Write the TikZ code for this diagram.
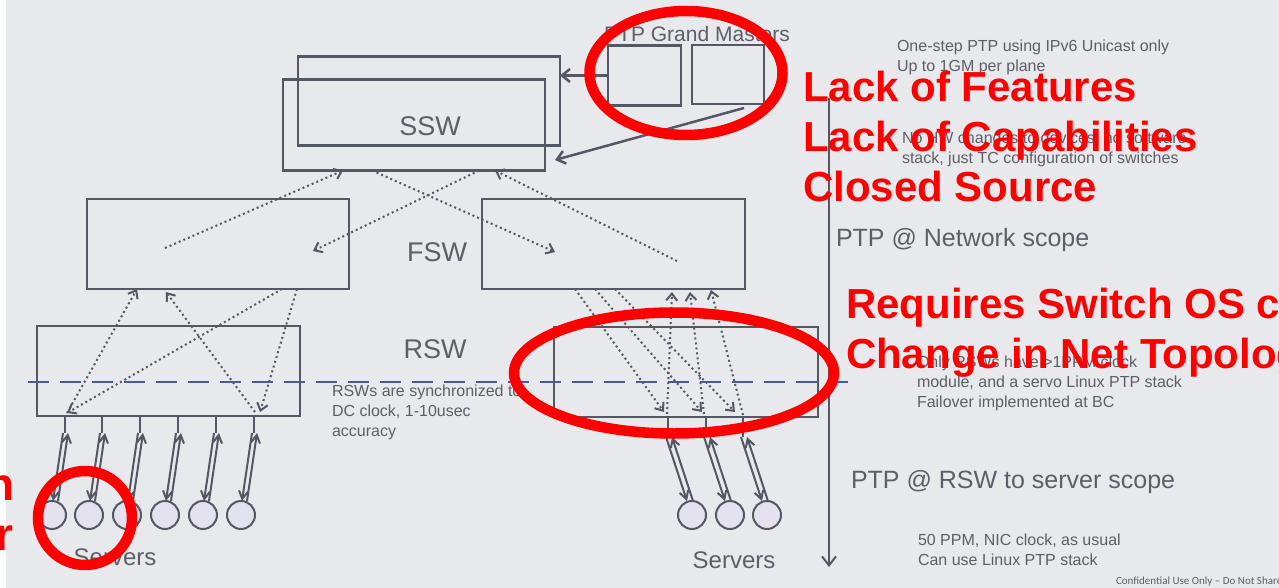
\documentclass[tikz,border=0pt]{standalone}
\usepackage{fontspec}
\setmainfont{Liberation Sans}
\newfontfamily\confont{Carlito}
\usetikzlibrary{arrows.meta,shapes.geometric}
\definecolor{bgc}{HTML}{E8E9EC}
\definecolor{lnc}{HTML}{535864}
\definecolor{txc}{HTML}{5B5F68}
\definecolor{srvc}{HTML}{E5E2F0}
\definecolor{dashc}{HTML}{4A5A96}
\definecolor{mkc}{HTML}{FF0000}
\tikzset{
 box/.style={draw=lnc, line width=2.5pt, rectangle, inner sep=0pt, outer sep=0pt},
 srv/.style={circle, draw=lnc, line width=2pt, fill=srvc, minimum size=28pt, inner sep=0pt, outer sep=0pt},
 txt/.style={inner sep=0pt, outer sep=0pt, anchor=base west, text=txc},
 small/.style={txt, font=\fontsize{16}{20}\selectfont},
 big/.style={txt, font=\fontsize{25}{30}\selectfont},
 lbl/.style={inner sep=0pt, outer sep=0pt, anchor=base, text=txc, font=\fontsize{27}{32}\selectfont},
 redtxt/.style={inner sep=0pt, outer sep=0pt, anchor=base west, text=mkc, font=\fontsize{42}{50}\selectfont\bfseries},
 redring/.style={draw=mkc, line width=10.5pt, inner sep=0pt, outer sep=0pt},
 dotarrow/.style={draw=lnc, line width=2pt, dash pattern=on 2pt off 3pt, -{Straight Barb[length=7pt,width=11pt]}},
 link/.style={draw=lnc, line width=2pt, -{Straight Barb[length=8pt,width=9pt]}},
 solidarrow/.style={draw=lnc, line width=2.5pt, -{Straight Barb[length=8pt,width=13pt]}},
}
\begin{document}
\begin{tikzpicture}[x=1pt,y=-1pt]
\useasboundingbox (0,0) rectangle (1279,588);
\fill[white] (0,0) rectangle (1279,588);
\fill[bgc] (6,0) rectangle (1279,588);

% SSW
\node[box, minimum width=262pt, minimum height=89pt] (sswb) at (429,101) {};
\node[box, minimum width=262pt, minimum height=91pt] (sswf) at (414,125) {};
\node[lbl] (sswt) at (430,136) {SSW};

% Grand masters
\node[box, minimum width=73pt, minimum height=60pt] (gm1) at (644.5,75.5) {};
\node[box, minimum width=72pt, minimum height=59pt] (gm2) at (728,74.5) {};
\node[txt, anchor=base, font=\fontsize{21}{25}\selectfont] (gmt) at (697,42) {PTP Grand Masters};
\draw[solidarrow] (gm1.west) -- (gm1.west -| sswb.east);
\draw[solidarrow] ([xshift=16pt,yshift=-4pt]gm2.south) -- ([xshift=10pt,yshift=-35pt]sswf.east);

% FSW
\node[box, minimum width=262pt, minimum height=90pt] (fswl) at (218,244) {};
\node[box, minimum width=263pt, minimum height=90pt] (fswr) at (613.5,244) {};
\node[lbl] (fswt) at (437,261) {FSW};

% RSW
\node[box, minimum width=263pt, minimum height=90pt] (rswl) at (168.5,371) {};
\node[box, minimum width=264pt, minimum height=90pt] (rswr) at (686,372) {};
\node[lbl] (rswt) at (435,358) {RSW};

% dotted arrows SSW <-> FSW
\coordinate (pL) at (165,248);
\coordinate (pL2) at (313,251);
\coordinate (pR) at (555,252);
\coordinate (pR2) at (677,261);
\draw[dotarrow] (pL) -- ([xshift=60pt]sswf.south west);
\draw[dotarrow] ([xshift=196pt]sswf.south west) -- (pL2);
\draw[dotarrow] ([xshift=89pt]sswf.south west) -- (pR);
\draw[dotarrow] (pR2) -- ([xshift=212pt]sswf.south west);

% dotted arrows FSW left <-> RSW left
\draw[dotarrow] ([xshift=30pt,yshift=3pt]rswl.south west) -- ([xshift=50pt]fswl.south west);
\draw[dotarrow] ([xshift=195pt]fswl.south west) -- ([xshift=30pt,yshift=3pt]rswl.south west);
\draw[dotarrow] ([xshift=218pt,yshift=4pt]rswl.south west) -- ([xshift=79pt,yshift=-3pt]fswl.south west);
\draw[dotarrow] ([xshift=210pt]fswl.south west) -- ([xshift=223pt,yshift=4pt]rswl.south west);

% dotted arrows FSW right <-> RSW right
\draw[dotarrow] ([xshift=93pt]fswr.south west) -- ([xshift=110pt,yshift=5pt]rswr.south west);
\draw[dotarrow] ([xshift=113pt]fswr.south west) -- ([xshift=148pt,yshift=5pt]rswr.south west);
\draw[dotarrow] ([xshift=133pt]fswr.south west) -- ([xshift=181pt,yshift=5pt]rswr.south west);
\draw[dotarrow] ([xshift=113pt,yshift=3pt]rswr.south west) -- ([xshift=190pt,yshift=-3pt]fswr.south west);
\draw[dotarrow] ([xshift=150pt,yshift=3pt]rswr.south west) -- ([xshift=208pt,yshift=-3pt]fswr.south west);
\draw[dotarrow] ([xshift=189pt,yshift=2pt]rswr.south west) -- ([xshift=229pt,yshift=-1pt]fswr.south west);

% dashed boundary
\coordinate (dA) at (28,382);
\coordinate (dB) at (848,382);
\draw[dashc, line width=2.5pt, dash pattern=on 21pt off 11pt] (dA) -- (dB);

% left servers
\foreach \i/\sx in {1/65,2/102,3/140,4/178,5/216,6/254} {
  \coordinate (kl\i) at (\sx,433);
  \node[srv] (sl\i) at (\sx-13,515) {};
  \draw[lnc, line width=2.5pt] (kl\i |- rswl.south) -- (kl\i);
  \draw[link] ([xshift=-2pt]kl\i) -- ([xshift=1pt]sl\i.north);
  \draw[link] ([xshift=6pt]sl\i.north) -- ([xshift=3pt]kl\i);
}
% right servers
\foreach \i/\sx in {1/668,2/706,3/743} {
  \coordinate (kr\i) at (\sx,437);
  \node[srv] (sr\i) at (\sx+24,515) {};
  \draw[lnc, line width=2.5pt] (kr\i |- rswr.south) -- (kr\i);
  \draw[link] ([xshift=-2pt]kr\i) -- ([xshift=-5pt]sr\i.north);
  \draw[link] ([xshift=1pt]sr\i.north) -- ([xshift=4pt]kr\i);
}
\node[txt, anchor=base, font=\fontsize{24}{28}\selectfont] (srvl) at (115,565) {Servers};
\node[txt, anchor=base, font=\fontsize{24}{28}\selectfont] (srvr) at (734,568) {Servers};

% scope arrow
\coordinate (vt) at (829,98);
\coordinate (vb) at (829,567);
\draw[lnc, line width=2pt, -{Straight Barb[length=9pt,width=14pt]}] (vt) -- (vb);

% grey texts
\node[small] (n1a) at (897,52) {One-step PTP using IPv6 Unicast only};
\node[small] (n1b) at (897,72) {Up to 1GM per plane};
\node[small] (n2a) at (902,144) {No HW changes to devices, no software};
\node[small] (n2b) at (902,164) {stack, just TC configuration of switches};
\node[big] (netscope) at (836,246) {PTP @ Network scope};
\node[small] (n3a) at (332,396) {RSWs are synchronized to};
\node[small] (n3b) at (332,416) {DC clock, 1-10usec};
\node[small] (n3c) at (332,436) {accuracy};
\node[small] (n4a) at (917,367) {Only RSWs have >1PPM clock};
\node[small] (n4b) at (917,387) {module, and a servo Linux PTP stack};
\node[small] (n4c) at (917,407) {Failover implemented at BC};
\node[big] (srvscope) at (851,488) {PTP @ RSW to server scope};
\node[small] (n5a) at (918,545) {50 PPM, NIC clock, as usual};
\node[small] (n5b) at (918,565) {Can use Linux PTP stack};

\begin{scope}
\clip (0,0) rectangle (1279,588);
\node[txt, font=\confont\fontsize{11}{13}\selectfont] (conf) at (1116,584) {Confidential Use Only – Do Not Share};
% red annotations
\node[redring, ellipse, minimum width=193pt, minimum height=124pt] (ringgm) at (686,73) {};
\node[redring, ellipse, minimum width=320pt, minimum height=121pt] (ringrsw) at (674,373) {};
\node[redring, circle, minimum size=94pt] (ringsrv) at (85,518) {};
\node[redtxt] (r1) at (803,102) {Lack of Features};
\node[redtxt] (r2) at (803,152) {Lack of Capabilities};
\node[redtxt] (r3) at (803,202) {Closed Source};
\node[redtxt] (r4) at (846,318) {Requires Switch OS changes};
\node[redtxt] (r5) at (846,368) {Change in Net Topology};
\node[redtxt, anchor=base east, font=\fontsize{46}{50}\selectfont\bfseries] (r6) at (15,500) {n};
\node[redtxt, anchor=base east, font=\fontsize{46}{50}\selectfont\bfseries] (r7) at (13,550) {r};
\end{scope}
\end{tikzpicture}
\end{document}
